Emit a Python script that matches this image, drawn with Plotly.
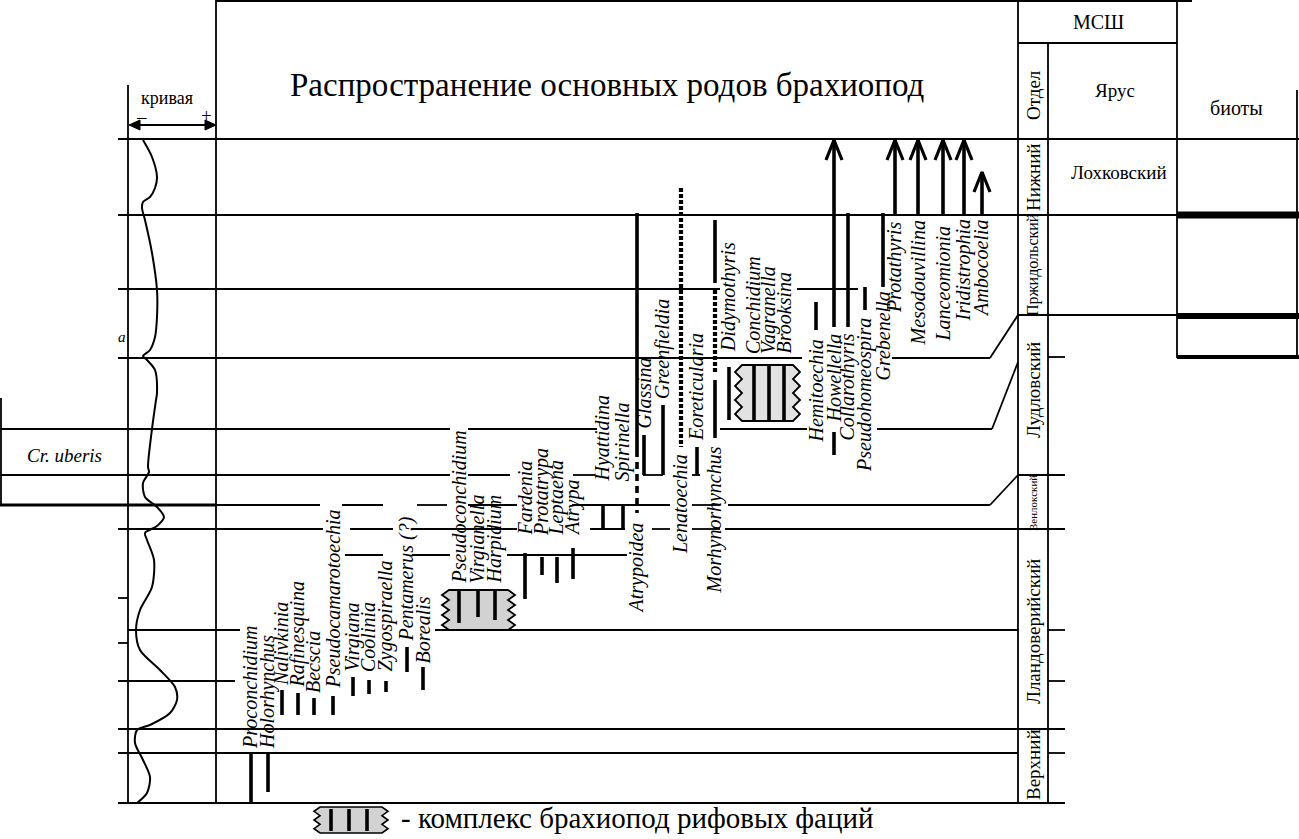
import plotly.graph_objects as go

# ---------------- data ----------------
TITLE = "Распространение основных родов брахиопод"

GENERA = ["Proconchidium", "Holorhynchus", "Nalivkinia", "Rafinesquina", "Becscia",
          "Pseudocamarotoechia", "Virgiana", "Coolinia", "Zygospiraella", "Pentamerus (?)",
          "Borealis", "Pseudoconchidium", "Virgianella", "Harpidium", "Fardenia",
          "Protatrypa", "Leptaena", "Atrypa", "Hyattidina", "Spirinella",
          "Atrypoidea", "Glassina", "Greenfieldia", "Lenatoechia", "Eoreticularia",
          "Morhynorhynchus", "Didymothyris", "Conchidium", "Vagranella", "Brooksina",
          "Hemitoechia", "Howellella", "Collarothyris", "Pseudohomeospira", "Grebenella",
          "Protathyris", "Mesodouvillina", "Lanceomionia", "Iridistrophia", "Ambocoelia"]
GENUS_COLUMN = [251, 268, 282, 298, 314, 333, 353, 369, 386, 407,
                423, 459, 478, 495, 525, 542, 557, 573, 603, 623,
                637, 644, 663, 681, 697, 715, 729, 754, 769, 784,
                816, 834, 848, 865, 883, 895, 918, 943, 964, 982]
RANGE_TOP = [753, 753, 690, 693, 698, 696, 677, 680, 681, 647,
             667, 590, 590, 590, 553, 557, 557, 548, 505, 505,
             213, 435, 405, 188, 447, 380, 367, 365, 365, 365,
             302, 140, 213, 287, 213, 140, 140, 140, 140, 172]
RANGE_BASE = [803, 792, 715, 715, 715, 715, 696, 694, 692, 672,
              690, 623, 617, 620, 599, 575, 583, 579, 528, 528,
              450, 475, 475, 447, 475, 438, 420, 420, 420, 420,
              330, 327, 327, 310, 287, 215, 215, 215, 215, 215]
RANGE_KIND = ["solid"] * 40
RANGE_KIND[GENERA.index("Lenatoechia")] = "fine"
CONTINUES_UP = ["Howellella", "Protathyris", "Mesodouvillina", "Lanceomionia",
                "Iridistrophia", "Ambocoelia"]
EXTRA_SEGMENTS = [("Atrypoidea", 450, 513, "dash"),
                  ("Morhynorhynchus", 290, 373, "fine"),
                  ("Morhynorhynchus", 220, 283, "solid"),
                  ("Howellella", 432, 455, "solid")]
REEF_GENERA = [["Pseudoconchidium", "Virgianella", "Harpidium"],
               ["Conchidium", "Vagranella", "Brooksina"]]

# sea-level curve (eustatic)
CURVE_X = [143, 152, 157, 155, 150, 143, 142, 145, 152, 157, 157, 155, 150, 143, 147, 155,
           157, 156, 152, 148, 149, 143, 145, 157, 164, 157, 145, 147, 154, 152, 140, 136,
           140, 160, 175, 177, 170, 150, 137, 135, 143, 150, 147, 137]
CURVE_Y = [140, 157, 177, 188, 197, 202, 208, 220, 253, 290, 317, 337, 350, 356, 360, 370,
           393, 400, 429, 467, 472, 483, 497, 507, 517, 526, 533, 540, 560, 587, 610, 630,
           650, 670, 687, 700, 713, 725, 730, 743, 760, 777, 793, 803]

# ---------------- layout helpers ----------------
W, H = 1299, 839
SERIF = "Liberation Serif, Times New Roman, DejaVu Serif, serif"
BLK = "black"

LABEL_BELOW = {"Atrypoidea", "Lenatoechia", "Morhynorhynchus", "Hemitoechia", "Howellella",
               "Collarothyris", "Pseudohomeospira", "Grebenella", "Protathyris",
               "Mesodouvillina", "Lanceomionia", "Iridistrophia", "Ambocoelia"}
LABEL_LEVEL = {"Proconchidium": 750, "Holorhynchus": 750, "Nalivkinia": 687, "Rafinesquina": 689,
               "Becscia": 694, "Pseudocamarotoechia": 690, "Virgiana": 673, "Coolinia": 673,
               "Zygospiraella": 673, "Pentamerus (?)": 643, "Borealis": 665,
               "Pseudoconchidium": 585, "Virgianella": 585, "Harpidium": 585,
               "Fardenia": 537, "Protatrypa": 537, "Leptaena": 537, "Atrypa": 537,
               "Hyattidina": 483, "Spirinella": 483, "Atrypoidea": 522, "Glassina": 430,
               "Greenfieldia": 400, "Lenatoechia": 453, "Eoreticularia": 442,
               "Morhynorhynchus": 446, "Didymothyris": 353, "Conchidium": 355,
               "Vagranella": 355, "Brooksina": 355, "Hemitoechia": 339, "Howellella": 333,
               "Collarothyris": 333, "Pseudohomeospira": 317, "Grebenella": 291,
               "Protathyris": 220, "Mesodouvillina": 220, "Lanceomionia": 226,
               "Iridistrophia": 218, "Ambocoelia": 218}

shapes = []
annotations = []


def hline(y, x0, x1, w=1.8):
    shapes.append(dict(type="line", xref="x", yref="y", x0=x0, x1=x1, y0=y, y1=y,
                       line=dict(color=BLK, width=w), layer="below"))


def vline(x, y0, y1, w=1.8):
    shapes.append(dict(type="line", xref="x", yref="y", x0=x, x1=x, y0=y0, y1=y1,
                       line=dict(color=BLK, width=w), layer="below"))


def seg(x0, y0, x1, y1, w=1.8):
    shapes.append(dict(type="line", xref="x", yref="y", x0=x0, x1=x1, y0=y0, y1=y1,
                       line=dict(color=BLK, width=w), layer="below"))


def text(x, y, s, size, angle=0, xa="center", ya="middle", color=BLK):
    annotations.append(dict(x=x, y=y, xref="x", yref="y", text=s, showarrow=False,
                            textangle=angle, xanchor=xa, yanchor=ya, borderpad=0,
                            font=dict(family=SERIF, size=size, color=color)))


def reef_path(x0, x1, y0, y1, amp=7, teeth=4):
    step = (y1 - y0) / (teeth * 2)
    p = f"M {x0 + amp},{y0} L {x1 - amp},{y0} "
    for i in range(1, teeth * 2 + 1):
        xx = x1 if i % 2 == 1 else x1 - amp
        p += f"L {xx},{y0 + i * step} "
    p += f"L {x0 + amp},{y1} "
    for i in range(1, teeth * 2 + 1):
        xx = x0 if i % 2 == 1 else x0 + amp
        p += f"L {xx},{y1 - i * step} "
    return p + "Z"


# ---------------- grid: horizons ----------------
HORIZONS = [
    (139, [(118, 1299)]),
    (215, [(118, 1177)]),
    (289, [(118, 720), (797, 858)]),
    (358, [(118, 802), (892, 990)]),
    (429, [(0, 450), (468, 597), (720, 807), (877, 992)]),
    (475, [(0, 450), (468, 510), (573, 595), (643, 663), (692, 700)]),
    (505, [(216, 320), (342, 383), (417, 447), (468, 517), (572, 670), (692, 720), (728, 990)]),
    (529, [(118, 323), (350, 393), (412, 517), (590, 625), (652, 670), (692, 720), (725, 1065)]),
    (555, [(345, 383), (412, 450), (507, 627)]),
    (630, [(128, 240), (435, 1018), (1048, 1065)]),
    (681, [(118, 235), (1048, 1065)]),
    (729, [(118, 1065)]),
    (753, [(118, 1018), (1048, 1065)]),
    (803, [(118, 1065)]),
]
for y, parts in HORIZONS:
    for x0, x1 in parts:
        hline(y, x0, x1)
hline(505, 0, 216, 3)
# correlation diagonals into the stage column
seg(990, 358, 1018, 315)
seg(992, 429, 1018, 362)
seg(990, 505, 1018, 475)

# frame verticals
vline(128, 85, 803)
vline(216, 0, 803)
vline(1018, 0, 803)
vline(1048, 43, 803)
vline(1177, 0, 358)
vline(1297, 90, 358)
vline(1, 398, 505)
hline(1, 216, 1192)
# right table rows
hline(43, 1018, 1177)
hline(315, 1018, 1177)
hline(357, 1048, 1065)
hline(475, 1018, 1065)
hline(215, 1177, 1299, 7)
hline(316, 1177, 1299, 6)
hline(357, 1177, 1299, 4)
# small ticks
hline(598, 118, 128)
hline(643, 118, 128)

# reef boxes
REEF_BOX_X = [(442, 515), (735, 800)]
REEF_FILL = ["#d2d2d2", "#e2e2e2"]
for (x0, x1), members, fill in zip(REEF_BOX_X, REEF_GENERA, REEF_FILL):
    tops = [RANGE_TOP[GENERA.index(g)] for g in members]
    bases = [RANGE_BASE[GENERA.index(g)] for g in members]
    y0 = min(tops)
    y1 = max(bases) + (7 if fill == REEF_FILL[0] else 1)
    shapes.append(dict(type="path", xref="x", yref="y", path=reef_path(x0, x1, y0, y1),
                       fillcolor=fill, line=dict(color=BLK, width=1.8), layer="below"))

# legend symbol
shapes.append(dict(type="path", xref="x", yref="y", path=reef_path(314, 388, 807, 833, 6, 3),
                   fillcolor="#d2d2d2", line=dict(color=BLK, width=1.6), layer="below"))

# ---------------- traces ----------------
fig = go.Figure()

# curve
fig.add_trace(go.Scatter(x=CURVE_X, y=CURVE_Y, mode="lines",
                         line=dict(color=BLK, width=2, shape="spline", smoothing=0.8),
                         hoverinfo="skip", showlegend=False))


def add_bars(xs, ys, dash="solid", width=3.6):
    fig.add_trace(go.Scatter(x=xs, y=ys, mode="lines",
                             line=dict(color=BLK, width=width, dash=dash),
                             hoverinfo="skip", showlegend=False))


solid_x, solid_y, fine_x, fine_y, dash_x, dash_y = [], [], [], [], [], []
for g, x, t, b, k in zip(GENERA, GENUS_COLUMN, RANGE_TOP, RANGE_BASE, RANGE_KIND):
    if k == "solid":
        solid_x += [x, x, None]; solid_y += [t, b, None]
    else:
        fine_x += [x, x, None]; fine_y += [t, b, None]
for g, t, b, k in EXTRA_SEGMENTS:
    x = GENUS_COLUMN[GENERA.index(g)]
    if k == "solid":
        solid_x += [x, x, None]; solid_y += [t, b, None]
    elif k == "fine":
        fine_x += [x, x, None]; fine_y += [t, b, None]
    else:
        dash_x += [x, x, None]; dash_y += [t, b, None]

# legend-symbol bars
for lx in [331, 349, 367]:
    solid_x += [lx, lx, None]; solid_y += [809, 831, None]

add_bars(solid_x, solid_y)
add_bars(fine_x, fine_y, dash="4px,2px", width=4.2)
add_bars(dash_x, dash_y, dash="7px,5px", width=3.6)

# arrow heads for ranges continuing upward
ax, ay = [], []
for g in CONTINUES_UP:
    i = GENERA.index(g)
    x, t = GENUS_COLUMN[i], RANGE_TOP[i]
    ax += [x - 8, x, x + 8, None]
    ay += [t + 20, t, t + 20, None]
fig.add_trace(go.Scatter(x=ax, y=ay, mode="lines", line=dict(color=BLK, width=3.2),
                         hoverinfo="skip", showlegend=False))

# genus labels
for g, x, t, b in zip(GENERA, GENUS_COLUMN, RANGE_TOP, RANGE_BASE):
    lvl = LABEL_LEVEL[g]
    if g in LABEL_BELOW:
        text(x - 1, lvl, f"<i>{g}</i>", 20, angle=-90, ya="top")
    else:
        text(x - 1, lvl, f"<i>{g}</i>", 20, angle=-90, ya="bottom")

# ---------------- texts ----------------
text(607, 85, TITLE, 33)
text(167, 98, "кривая", 18)
text(141, 116, "–", 19)
text(206, 115, "+", 19)
# double arrow
seg(134, 125, 212, 125, 2)
shapes.append(dict(type="path", xref="x", yref="y", path="M 129,125 L 140,120 L 140,130 Z",
                   fillcolor=BLK, line=dict(color=BLK, width=1)))
shapes.append(dict(type="path", xref="x", yref="y", path="M 216,125 L 205,120 L 205,130 Z",
                   fillcolor=BLK, line=dict(color=BLK, width=1)))

text(64, 455, "<i>Cr. uberis</i>", 19)
text(122, 337, "<i>a</i>", 15)

text(1098, 22, "МСШ", 20)
text(1033, 95, "Отдел", 19, angle=-90)
text(1115, 90, "Ярус", 19)
text(1236, 108, "биоты", 20)
text(1033, 177, "Нижний", 19, angle=-90)
text(1119, 172, "Лохковский", 19)
text(1033, 265, "Пржидольский", 16, angle=-90)
text(1033, 390, "Лудловский", 19, angle=-90)
text(1033, 503, "Венлокский", 11, angle=-90)
text(1033, 632, "Лландоверийский", 19, angle=-90)
text(1033, 765, "Верхний", 19, angle=-90)

text(400, 818, "- комплекс брахиопод рифовых фаций", 29, xa="left")

fig.update_layout(
    width=W, height=H, autosize=False,
    margin=dict(l=0, r=0, t=0, b=0),
    paper_bgcolor="white", plot_bgcolor="white",
    font=dict(family=SERIF),
    xaxis=dict(range=[0, W], visible=False, showgrid=False, zeroline=False, fixedrange=True),
    yaxis=dict(range=[H, 0], visible=False, showgrid=False, zeroline=False, fixedrange=True),
    shapes=shapes, annotations=annotations, showlegend=False,
)

fig.write_html("out.html", config={"displayModeBar": False},
               post_script="document.body.style.margin='0';document.body.style.overflow='hidden';")
